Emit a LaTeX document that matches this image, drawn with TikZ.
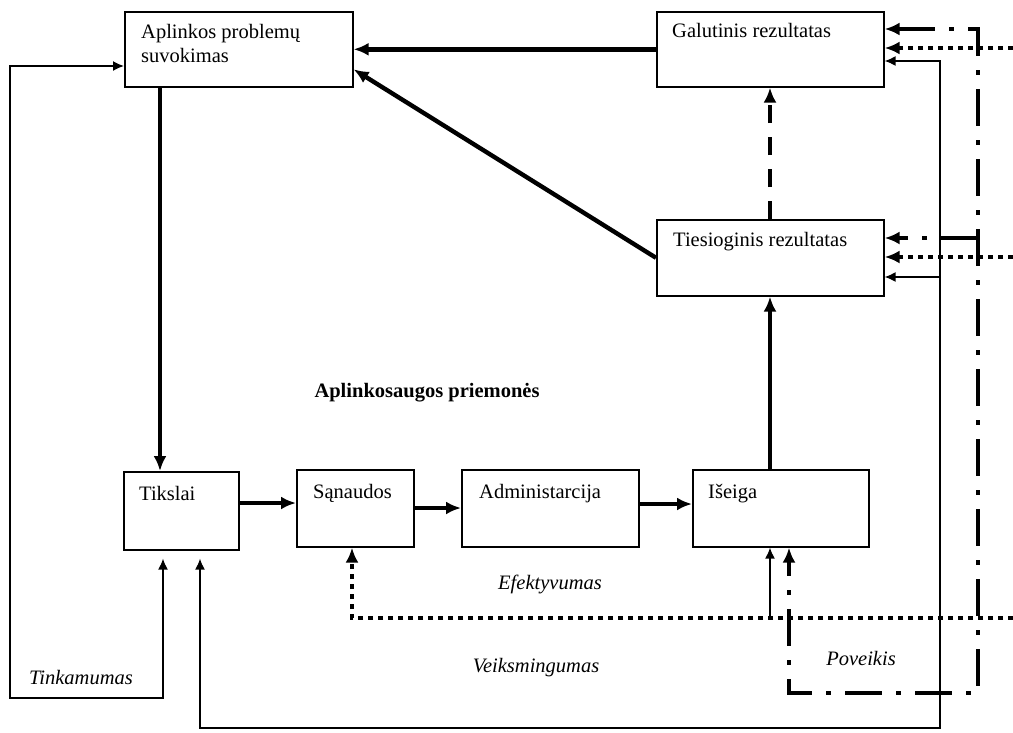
\documentclass[tikz,border=0pt]{standalone}
\usepackage{fontspec}
\setmainfont{Liberation Serif}
\usetikzlibrary{arrows.meta,calc}

\begin{document}
\begin{tikzpicture}[x=1pt,y=-1pt,
  box/.style={draw, line width=1.6pt, rectangle, anchor=north west, inner sep=0pt},
  boxtext/.style={anchor=base west, inner sep=0pt, font=\fontsize{20.5}{24}\selectfont, align=left},
  lbl/.style={inner sep=0pt, font=\fontsize{20.5}{24}\selectfont\itshape},
  heading/.style={inner sep=0pt, font=\fontsize{20.5}{24}\selectfont\bfseries},
  bighead/.style={-{Latex[length=15pt,width=13pt]}},
  bigheads/.style={{Latex[length=15pt,width=13pt]}-{Latex[length=15pt,width=13pt]}},
  smallhead/.style={-{Latex[length=11pt,width=10pt]}},
  smallheads/.style={{Latex[length=11pt,width=10pt]}-{Latex[length=11pt,width=10pt]}},
  flow/.style={line width=4.4pt, bighead},
  thinline/.style={line width=1.6pt},
  dotline/.style={line width=4pt, dash pattern=on 5pt off 5pt},
  dashdotline/.style={line width=4pt, dash pattern=on 37pt off 14pt on 5pt off 14pt},
  dashline/.style={line width=4.4pt, dash pattern=on 18pt off 14pt}
]
\useasboundingbox (0,0) rectangle (1013,732);

% boxes
\node[box, minimum width=228pt, minimum height=75pt] (A) at (124,11) {};
\node[box, minimum width=227pt, minimum height=75pt] (G) at (656,11) {};
\node[box, minimum width=227pt, minimum height=76pt] (T) at (656,219) {};
\node[box, minimum width=115pt, minimum height=78pt] (K) at (123,471) {};
\node[box, minimum width=117pt, minimum height=77pt] (S) at (296,469) {};
\node[box, minimum width=177pt, minimum height=77pt] (D) at (461,469) {};
\node[box, minimum width=176pt, minimum height=77pt] (I) at (692,469) {};

% box texts, top-left aligned (base anchor of a two-line node is its last line)
\node[boxtext] (At) at ($(A.north west)+(17,51)$) {Aplinkos problemų\\suvokimas};
\node[boxtext] (Gt) at ($(G.north west)+(16,26)$) {Galutinis rezultatas};
\node[boxtext] (Tt) at ($(T.north west)+(17,27)$) {Tiesioginis rezultatas};
\node[boxtext] (Kt) at ($(K.north west)+(16,29)$) {Tikslai};
\node[boxtext] (St) at ($(S.north west)+(17,29)$) {Sąnaudos};
\node[boxtext] (Dt) at ($(D.north west)+(18,29)$) {Administarcija};
\node[boxtext] (It) at ($(I.north west)+(16,29)$) {Išeiga};

% free labels
\node[heading] (P) at (427,393) {Aplinkosaugos priemonės};
\node[lbl] (E) at (550,584) {Efektyvumas};
\node[lbl] (V) at (536,668) {Veiksmingumas};
\node[lbl] (Tk) at (81,677) {Tinkamumas};
\node[lbl] (Pv) at (861,658) {Poveikis};

% free ends and corners
\coordinate (leftdown) at (10,698);
\coordinate (bottomright) at (940,728);
\coordinate (thinT) at (940,277);
\coordinate (dotend) at (1013,618);
\coordinate (dotG) at (1013,48);
\coordinate (dotT) at (1013,257);
\coordinate (ddcorner) at (978,693);
\coordinate (ddT) at (978,238);
\coordinate (thinI) at (770,618);

% main thick flow
\draw[flow] (G.west) -- (A.east);
\draw[flow] (T.west) -- ([yshift=-20pt]A.east);
\draw[flow] (A.south -| 160,0) -- (K.north -| 160,0);
\draw[flow] (K.east |- 0,503) -- (S.west |- 0,503);
\draw[flow] (S.east |- 0,508) -- (D.west |- 0,508);
\draw[flow] (D.east |- 0,504) -- (I.west |- 0,504);
\draw[flow] (I.north -| 770,0) -- (T.south -| 770,0);
\draw[dashline, bighead] (T.north -| 770,0) -- (G.south -| 770,0);

% thin feedback loops
\draw[thinline, smallheads, shorten >=8pt] (A.west |- 0,66) -| (leftdown) -| (K.south -| 163,0);
\draw[thinline, smallheads, shorten <=8pt] (K.south -| 200,0) |- (bottomright) |- (G.east |- 0,61);
\draw[thinline, smallhead] (thinT) -- (T.east |- 0,277);
\draw[thinline, smallhead] (thinI) -- (I.south -| 770,0);

% dotted lines
\draw[dotline, bighead] (dotend) -| (S.south -| 352,0);
\draw[dotline, bighead] (dotG) -- (G.east |- 0,48);
\draw[dotline, bighead] (dotT) -- (T.east |- 0,257);

% dash-dot lines
\draw[dashdotline, bigheads] (G.east |- 0,29) -| (ddcorner) -| (I.south -| 789,0);
\draw[dashdotline, bighead] (ddT) -- (T.east |- 0,238);
\end{tikzpicture}
\end{document}
